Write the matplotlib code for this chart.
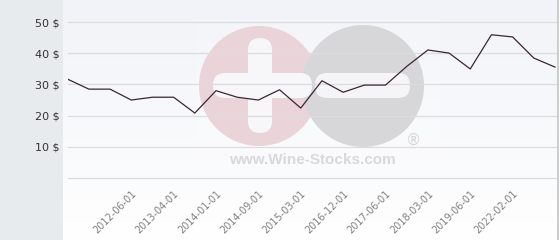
import numpy as np
import matplotlib
matplotlib.use('Agg')
import matplotlib.pyplot as plt
from matplotlib.patches import Circle, FancyBboxPatch, Rectangle

W, H = 560, 240

# price per point
prices = [31.7, 28.5, 28.5, 25.0, 25.9, 25.9, 20.8, 28.0, 25.9, 25.0, 28.3, 22.4,
          31.2, 27.5, 29.8, 29.8, 35.8, 41.1, 40.1, 35.0, 46.0, 45.3, 38.5, 35.6]
tick_idx = [3, 5, 7, 9, 11, 13, 15, 17, 19, 21]
tick_labels = ['2012-06-01', '2013-04-01', '2014-01-01', '2014-09-01', '2015-03-01',
               '2016-12-01', '2017-06-01', '2018-03-01', '2019-06-01', '2022-02-01']
y_ticks = [10, 20, 30, 40, 50]

fig = plt.figure(figsize=(W / 100, H / 100), dpi=100)
fig.patch.set_facecolor('white')

# left grey strip
fig.patches.append(Rectangle((0, 0), 63 / W, 1, transform=fig.transFigure,
                             facecolor='#e7ebee', edgecolor='none', zorder=0))

# gradient background of the plot area
bg = fig.add_axes([63 / W, 0, (557 - 63) / W, 1])
grad = np.linspace(0, 1, 256).reshape(-1, 1)
top = np.array([0.945, 0.953, 0.972])
bot = np.array([1.0, 1.0, 1.0])
img = top + (bot - top) * grad[..., None].repeat(1, axis=1)
bg.imshow(img, aspect='auto', extent=(0, 1, 0, 1), origin='upper')
bg.set_xlim(0, 1)
bg.set_ylim(0, 1)
bg.axis('off')
fig.add_artist(plt.Line2D([557.5 / W, 557.5 / W], [0, 1], color='#c4c4c4', lw=1.2))

# plot axes
x0, x1 = 67.5, 556
ytop, ybot = 10, 177.7
ax = fig.add_axes([x0 / W, (H - ybot) / H, (x1 - x0) / W, (ybot - ytop) / H])
ax.patch.set_alpha(0)
step = (555 - 67.7) / 23
ax.set_xlim(-(67.7 - x0) / step, 23 + (x1 - 555) / step)
ax.set_ylim(0, 50 + (22.3 - ytop) / 3.1)

# watermark in pixel coords
wm = fig.add_axes([0, 0, 1, 1])
wm.set_xlim(0, W)
wm.set_ylim(H, 0)
wm.axis('off')
wm.patch.set_alpha(0)
wm.set_zorder(0.5)
ax.set_zorder(1)
wm.add_patch(Rectangle((196, 20), 244, 158, facecolor='white', alpha=0.18, edgecolor='none'))
wm.add_patch(Circle((259, 86), 60, facecolor='#ead3d9', edgecolor='none'))
wm.add_patch(Circle((363, 86), 61, facecolor='#d7d7d9', edgecolor='none'))
wm.add_patch(FancyBboxPatch((248, 38), 24, 95, boxstyle='round,pad=0,rounding_size=12',
                            facecolor='#f7f7f9', edgecolor='none'))
wm.add_patch(FancyBboxPatch((213, 73), 99, 25, boxstyle='round,pad=0,rounding_size=12',
                            facecolor='#f7f7f9', edgecolor='none'))
wm.add_patch(FancyBboxPatch((315, 73), 95, 25, boxstyle='round,pad=0,rounding_size=12',
                            facecolor='#f5f5f7', edgecolor='none'))
wm.text(413, 140, '®', fontsize=11, color='#d4d4d6', ha='center', va='center')
wm.text(312, 160, 'www.Wine-Stocks.com', fontsize=11, color='#d9d9dc',
        fontweight='bold', ha='center', va='center', family='Liberation Sans')

# grid
for v in [0] + y_ticks:
    ax.axhline(v, color='#dcdcdc', lw=0.9, zorder=1, clip_on=False)

ax.plot(range(len(prices)), prices, color='#3b2634', lw=0.9, zorder=3)

ax.set_yticks(y_ticks)
ax.set_yticklabels([f'{v} $' for v in y_ticks], fontsize=8, color='#333333')
ax.set_xticks(tick_idx)
ax.set_xticklabels(tick_labels, rotation=45, ha='right', rotation_mode='anchor',
                   fontsize=7, color='#808080')
ax.tick_params(axis='y', length=0, pad=5.5)
ax.tick_params(axis='x', length=0, pad=8)
for s in ax.spines.values():
    s.set_visible(False)

fig.savefig('out.png', dpi=100)
